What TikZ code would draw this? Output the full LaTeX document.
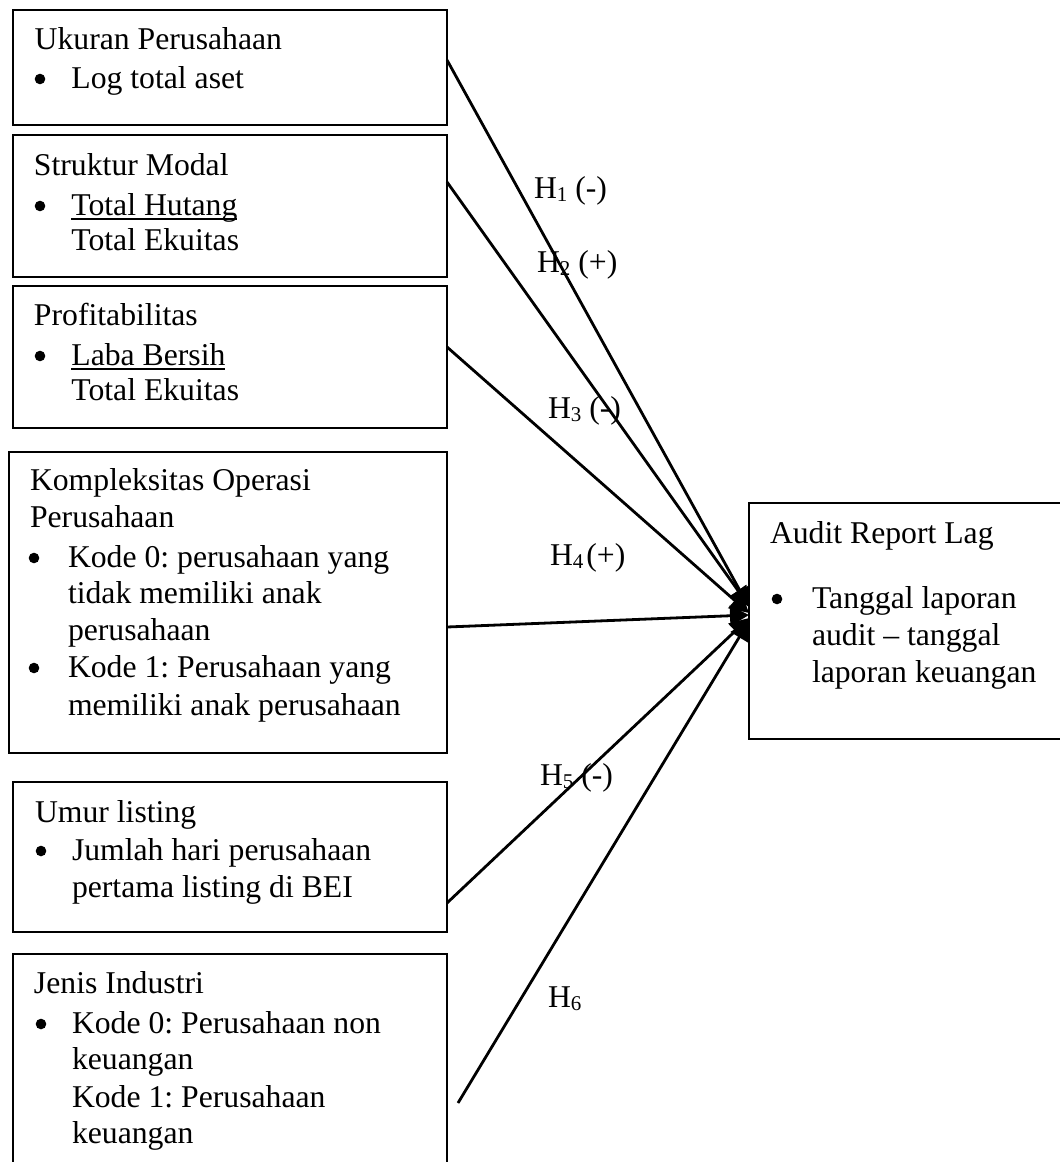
\documentclass[tikz,border=0pt]{standalone}
\usepackage{fontspec}
\setmainfont{Liberation Serif}
\usetikzlibrary{arrows.meta,calc}
\newcommand{\Hsub}[1]{\raisebox{-0.12em}{\fontsize{21}{21}\selectfont #1}}
\frenchspacing
\begin{document}
\begin{tikzpicture}[x=1pt,y=-1pt,
  box/.style={draw, line width=1.9pt, inner sep=0pt, outer sep=0pt, anchor=north west},
  txt/.style={anchor=base west, inner sep=0pt, outer sep=0pt, font=\fontsize{31.7}{36.7}\selectfont},
  link/.style={line width=2.8pt, -{Triangle[length=19pt,width=20pt,fill=black]}},
  uline/.style={line width=1.6pt},
  bul/.style={fill=black}]
\clip (0,0) rectangle (1060,1162);
\fill[white] (0,0) rectangle (1060,1162);

% boxes
\node[box, minimum width=434.3pt, minimum height=115pt] (b1) at (12.7,10) {};
\node[box, minimum width=434.3pt, minimum height=142pt] (b2) at (12.7,135) {};
\node[box, minimum width=434.3pt, minimum height=142pt] (b3) at (12.7,286) {};
\node[box, minimum width=438.3pt, minimum height=301pt] (b4) at (8.7,452) {};
\node[box, minimum width=434pt, minimum height=150pt] (b5) at (13,782) {};
\node[box, minimum width=434pt, minimum height=230pt] (b6) at (13,954) {};
\node[box, minimum width=330pt, minimum height=236pt] (aud) at (749,503) {};

% box 1
\node[txt] (t1a) at (34.7,49) {Ukuran Perusahaan};
\fill[bul] (40,79) circle (5.3);
\node[txt] (t1b) at (71.4,88) {Log total aset};

% box 2
\node[txt] (t2a) at (34,175) {Struktur Modal};
\fill[bul] (40,206) circle (5.3);
\node[txt] (t2b) at (71.4,215) {Total Hutang};
\draw[uline] ([yshift=-4pt]t2b.base west) -- ([yshift=-4pt]t2b.base east);
\node[txt] (t2c) at (71.4,250) {Total Ekuitas};

% box 3
\node[txt] (t3a) at (34,325) {Profitabilitas};
\fill[bul] (40,356) circle (5.3);
\node[txt] (t3b) at (71.4,365) {Laba Bersih};
\draw[uline] ([yshift=-4pt]t3b.base west) -- ([yshift=-4pt]t3b.base east);
\node[txt] (t3c) at (71.4,400) {Total Ekuitas};

% box 4
\node[txt] (t4a) at (30,490) {Kompleksitas Operasi};
\node[txt] (t4b) at (30,527) {Perusahaan};
\fill[bul] (34,558) circle (5.3);
\node[txt] (t4c) at (68,567) {Kode 0: perusahaan yang};
\node[txt] (t4d) at (68,603) {tidak memiliki anak};
\node[txt] (t4e) at (68,640) {perusahaan};
\fill[bul] (34,668) circle (5.3);
\node[txt] (t4f) at (68,677) {Kode 1: Perusahaan yang};
\node[txt] (t4g) at (68,715) {memiliki anak perusahaan};

% box 5
\node[txt] (t5a) at (35,822) {Umur listing};
\fill[bul] (41,851) circle (5.3);
\node[txt] (t5b) at (72,860) {Jumlah hari perusahaan};
\node[txt] (t5c) at (72,897) {pertama listing di BEI};

% box 6
\node[txt] (t6a) at (34,993) {Jenis Industri};
\fill[bul] (41,1024) circle (5.3);
\node[txt] (t6b) at (72,1033) {Kode 0: Perusahaan non};
\node[txt] (t6c) at (72,1069) {keuangan};
\node[txt] (t6d) at (72,1107) {Kode 1: Perusahaan};
\node[txt] (t6e) at (72,1143) {keuangan};

% audit box
\node[txt] (ta) at (770,543) {Audit Report Lag};
\fill[bul] (777,599) circle (5.3);
\node[txt] (tb) at (812,608) {Tanggal laporan};
\node[txt] (tc) at (812,645) {audit -- tanggal};
\node[txt] (td) at (812,682) {laporan keuangan};

% connector ends
\coordinate (s6) at (458,1103);
\draw[link] ($(b1.east)+(0,-7.5)$) -- ($(aud.west)+(0,-14)$);
\draw[link] ($(b2.east)+(0,-24)$) -- ($(aud.west)+(0,-15)$);
\draw[link] ($(b3.east)+(0,-10)$) -- ($(aud.west)+(0,-8)$);
\draw[link] ($(b4.east)+(0,24.5)$) -- ($(aud.west)+(0,-6)$);
\draw[link] ($(b5.east)+(0,46)$) -- ($(aud.west)+(0,-3)$);
\draw[link] (s6) -- ($(aud.west)+(0,0)$);

% labels
\node[txt] (h1) at (534,198) {H\Hsub{1} (-)};
\node[txt] (h2) at (537,272) {H\Hsub{2} (+)};
\node[txt] (h3) at (548,418) {H\Hsub{3} (-)};
\node[txt] (h4) at (550,565) {H\Hsub{4}\hspace{3pt}(+)};
\node[txt] (h5) at (540,785) {H\Hsub{5} (-)};
\node[txt] (h6) at (548,1007) {H\Hsub{6}};
\end{tikzpicture}
\end{document}
